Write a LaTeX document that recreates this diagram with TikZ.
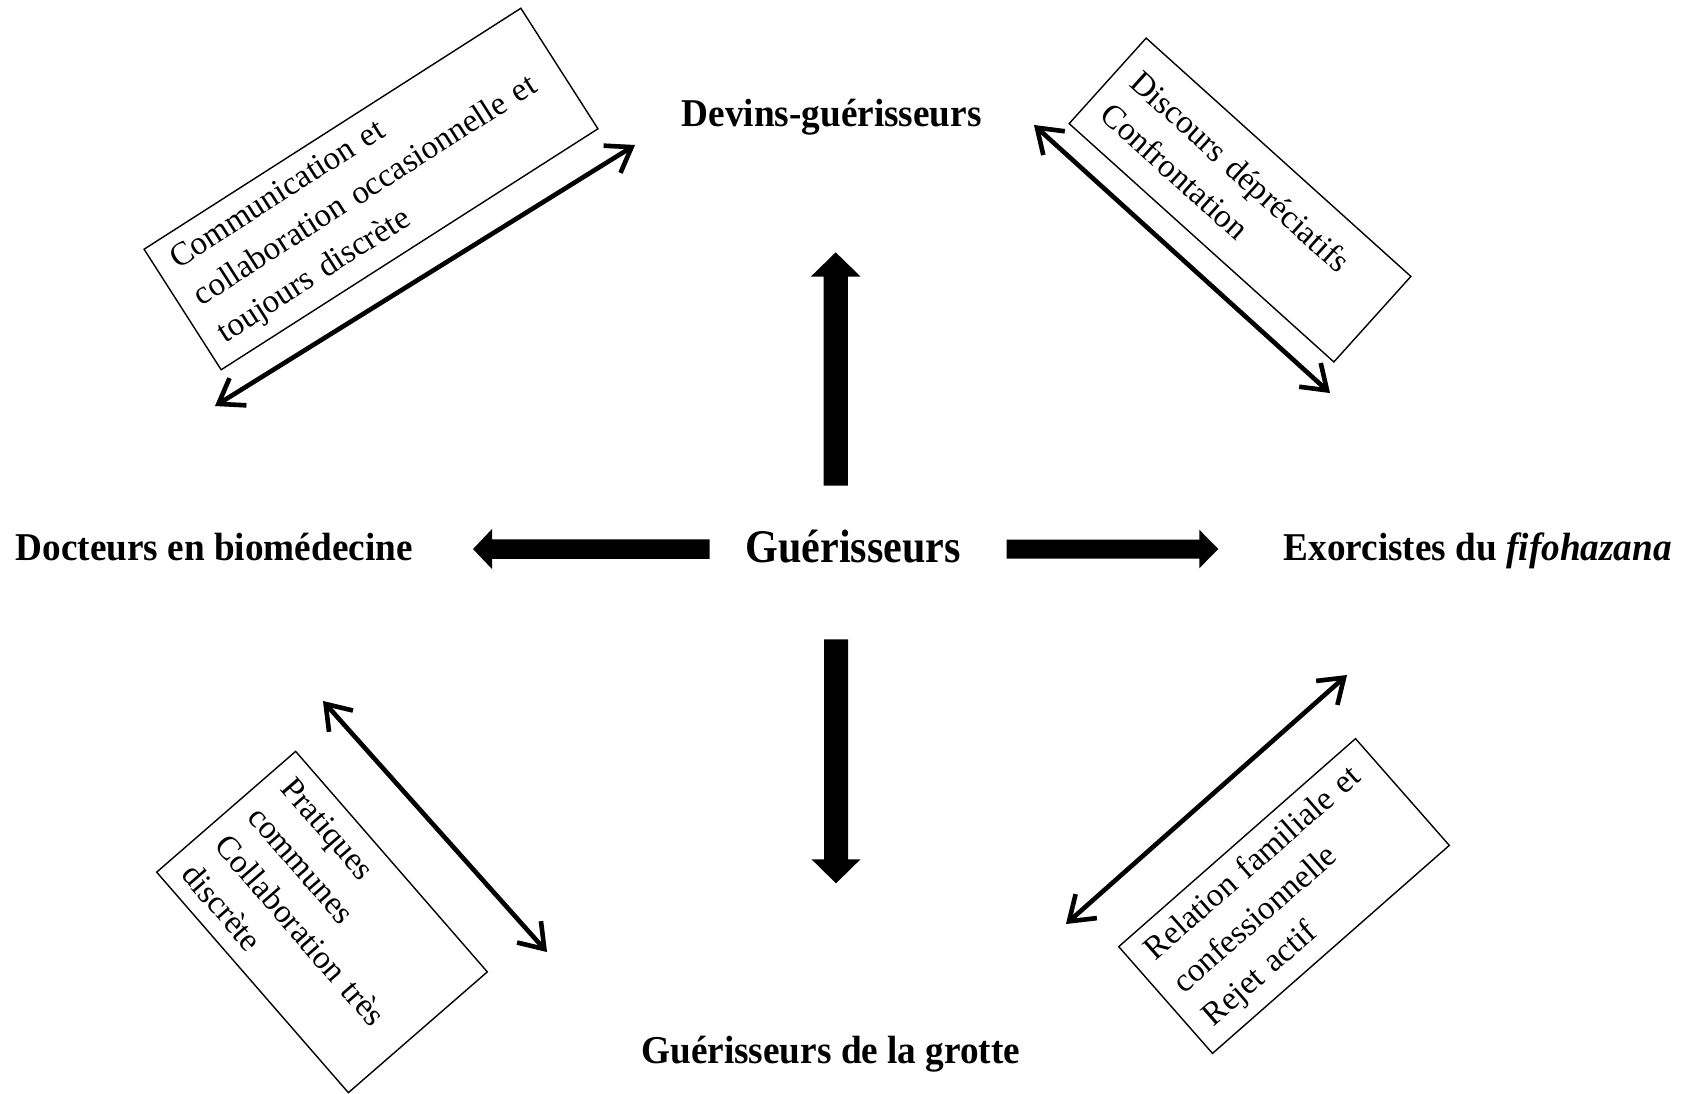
\documentclass[tikz,border=0pt]{standalone}
\usepackage{fontspec}
\setmainfont{Liberation Serif}
\usepackage{graphicx}
\usetikzlibrary{arrows.meta}
\newcommand{\narrow}[2][0.945]{\scalebox{#1}[1]{#2}}
\begin{document}
\begin{tikzpicture}[x=0.01cm,y=-0.01cm,
  lbl/.style={font=\fontsize{11.2}{13}\selectfont\bfseries, inner sep=0},
  note/.style={draw, line width=0.4pt, align=left, inner xsep=0.18cm, inner ysep=0,
    font=\fontsize{9.4}{12.5}\selectfont},
  link/.style={line width=1.3pt, line cap=round,
    {Straight Barb[length=2.3mm,width=3.2mm]}-{Straight Barb[length=2.3mm,width=3.2mm]}},
  linkshadow/.style={link, draw=black!30, opacity=0.6, shift={(1.5,1.8)}},
  block/.style={fill=black}]
\useasboundingbox (0,0) rectangle (1688,1093);

% actors
\node[lbl, anchor=base] (dev) at (831.7,126.7) {\narrow{Devins-guérisseurs}};
\node[lbl, anchor=base west] (doc) at (15,560) {\narrow{Docteurs en biomédecine}};
\node[lbl, anchor=base west] (exo) at (1283,560) {\narrow{Exorcistes du \textit{fifohazana}}};
\node[lbl, anchor=base] (grotte) at (830.8,1063.3) {\narrow{Guérisseurs de la grotte}};
\node[inner sep=0, anchor=base west, font=\fontsize{13.3}{15}\selectfont\bfseries]
  (gue) at (745,562) {\narrow[0.9]{Guérisseurs}};

% block arrows from the centre
\coordinate (upS) at (835.7,485.7);  \coordinate (upE) at (835.7,252.3);
\coordinate (dnS) at (836,639.3);    \coordinate (dnE) at (836,883.3);
\coordinate (lfS) at (709.5,549);    \coordinate (lfE) at (473,549);
\coordinate (rtS) at (1006.7,549);   \coordinate (rtE) at (1218.3,549);
\fill[block] (upS) ++(-12.2,0) -- ++(0,-209) -- ++(-12.8,0) -- (upE)
  -- ++(25,24.4) -- ++(-12.8,0) -- ++(0,209) -- cycle;
\fill[block] (dnS) ++(-12,0) -- ++(0,220) -- ++(-12.5,0) -- (dnE)
  -- ++(24.5,-24) -- ++(-12.5,0) -- ++(0,-220) -- cycle;
\fill[block] (lfS) ++(0,-9.75) -- ++(-217.5,0) -- ++(0,-10.25) -- (lfE)
  -- ++(19,20) -- ++(0,-10.25) -- ++(217.5,0) -- cycle;
\fill[block] (rtS) ++(0,-9.5) -- ++(192.6,0) -- ++(0,-9.75) -- (rtE)
  -- ++(-19,19.25) -- ++(0,-9.75) -- ++(-192.6,0) -- cycle;

% relation boxes
\node[note, rotate=32.6, text width=4.11cm, minimum height=1.43cm] (n1) at (371,189)
  {Communication et\\collaboration occasionnelle et\\toujours discrète};
\node[note, rotate=-42, text width=3.2cm, minimum height=1.15cm] (n2) at (1240,200)
  {Discours dépréciatifs\\Confrontation};
\node[note, rotate=-49, text width=2.56cm, minimum height=1.84cm] (n3) at (322,922)
  {Pratiques\\communes\\Collaboration très\\discrète};
\node[note, rotate=41.3, text width=2.79cm, minimum height=1.42cm] (n4) at (1284,896)
  {Relation familiale et\\confessionnelle\\Rejet actif};

% two-way relation arrows
\coordinate (a1) at (635,145);  \coordinate (b1) at (215,406);
\coordinate (a2) at (1034,125); \coordinate (b2) at (1330,393);
\coordinate (a3) at (323,701);  \coordinate (b3) at (547,952);
\coordinate (a4) at (1347,675); \coordinate (b4) at (1066,924);
\foreach \s/\e in {a1/b1, a2/b2, a3/b3, a4/b4}{
  \draw[linkshadow] (\s) -- (\e);
  \draw[link] (\s) -- (\e);
}
\end{tikzpicture}
\end{document}
